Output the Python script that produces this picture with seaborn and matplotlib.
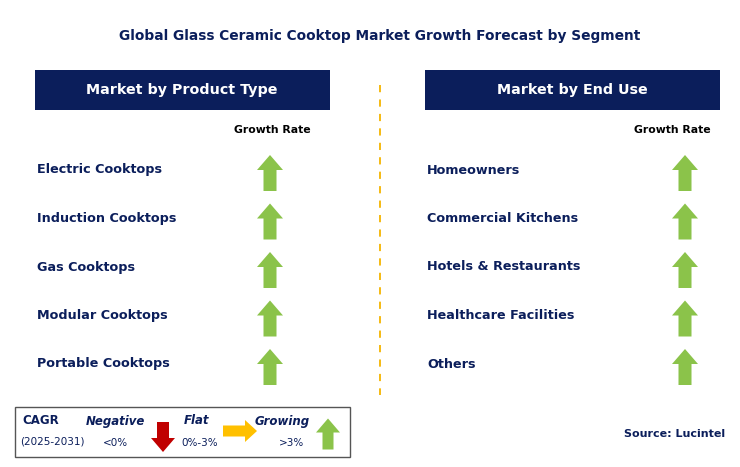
import seaborn as sns
import matplotlib.pyplot as plt
from matplotlib.patches import Rectangle, Polygon

sns.set_style("white")

title = "Global Glass Ceramic Cooktop Market Growth Forecast by Segment"
left_header = "Market by Product Type"
right_header = "Market by End Use"
product_types = ["Electric Cooktops", "Induction Cooktops", "Gas Cooktops",
                 "Modular Cooktops", "Portable Cooktops"]
end_uses = ["Homeowners", "Commercial Kitchens", "Hotels & Restaurants",
            "Healthcare Facilities", "Others"]
product_growth = ["up", "up", "up", "up", "up"]
end_use_growth = ["up", "up", "up", "up", "up"]

NAVY = "#0B1E5B"
GREEN = "#8BC34A"
RED = "#C00000"
ORANGE = "#FFC000"

fig = plt.figure(figsize=(7.4, 4.67), dpi=100)
ax = fig.add_axes([0, 0, 1, 1])
ax.set_xlim(0, 740)
ax.set_ylim(467, 0)
ax.axis("off")


def arrow(cx, cy, direction, color, L=36, W=24, sw=11, hl=15):
    if direction == "up":
        t, b = cy - L / 2, cy + L / 2
        pts = [(cx, t), (cx + W / 2, t + hl), (cx + sw / 2, t + hl), (cx + sw / 2, b),
               (cx - sw / 2, b), (cx - sw / 2, t + hl), (cx - W / 2, t + hl)]
    elif direction == "down":
        t, b = cy - L / 2, cy + L / 2
        pts = [(cx, b), (cx + W / 2, b - hl), (cx + sw / 2, b - hl), (cx + sw / 2, t),
               (cx - sw / 2, t), (cx - sw / 2, b - hl), (cx - W / 2, b - hl)]
    else:
        l, r = cx - L / 2, cx + L / 2
        pts = [(r, cy), (r - hl, cy - W / 2), (r - hl, cy - sw / 2), (l, cy - sw / 2),
               (l, cy + sw / 2), (r - hl, cy + sw / 2), (r - hl, cy + W / 2)]
    ax.add_patch(Polygon(pts, closed=True, color=color, lw=0))


ax.text(380, 36, title, ha="center", va="center", fontsize=9.9, fontweight="bold", color=NAVY)

for x0, header, cats, growth, arrow_x, gr_x in [
        (35, left_header, product_types, product_growth, 270, 272),
        (425, right_header, end_uses, end_use_growth, 685, 672)]:
    ax.add_patch(Rectangle((x0, 70), 295, 40, color=NAVY, lw=0))
    ax.text(x0 + 147, 90, header, ha="center", va="center", fontsize=10.3,
            fontweight="bold", color="white")
    ax.text(gr_x, 130, "Growth Rate", ha="center", va="center", fontsize=7.8,
            fontweight="bold", color="black")
    for i, (cat, g) in enumerate(zip(cats, growth)):
        y = 170 + i * 48.5
        ax.text(x0 + 2, y, cat, ha="left", va="center", fontsize=9.2,
                fontweight="bold", color=NAVY)
        arrow(arrow_x, y + 3, g, GREEN, L=36, W=26, sw=13, hl=15)

ax.plot([380, 380], [85, 395], ls=(0, (4, 4)), color="#F5B400", lw=1.3)

# legend box
ax.add_patch(Rectangle((15, 407), 335, 50, fill=False, ec="#555555", lw=1))
ax.text(22, 421, "CAGR", fontsize=8.5, fontweight="bold", color=NAVY, va="center")
ax.text(20, 442, "(2025-2031)", fontsize=7.5, color=NAVY, va="center")
ax.text(115, 421, "Negative", fontsize=8.5, fontweight="bold", style="italic", color=NAVY, va="center", ha="center")
ax.text(115, 443, "<0%", fontsize=7.5, color=NAVY, va="center", ha="center")
arrow(163, 437, "down", RED, L=30, W=24, sw=12, hl=14)
ax.text(197, 421, "Flat", fontsize=8.5, fontweight="bold", style="italic", color=NAVY, va="center", ha="center")
ax.text(200, 443, "0%-3%", fontsize=7.5, color=NAVY, va="center", ha="center")
arrow(240, 431, "right", ORANGE, L=34, W=22, sw=11, hl=12)
ax.text(282, 421, "Growing", fontsize=8.5, fontweight="bold", style="italic", color=NAVY, va="center", ha="center")
ax.text(292, 443, ">3%", fontsize=7.5, color=NAVY, va="center", ha="center")
arrow(328, 434, "up", GREEN, L=31, W=24, sw=11, hl=14)

ax.text(675, 434, "Source: Lucintel", ha="center", va="center", fontsize=8,
        fontweight="bold", color=NAVY)

fig.savefig("out.png", dpi=100)
